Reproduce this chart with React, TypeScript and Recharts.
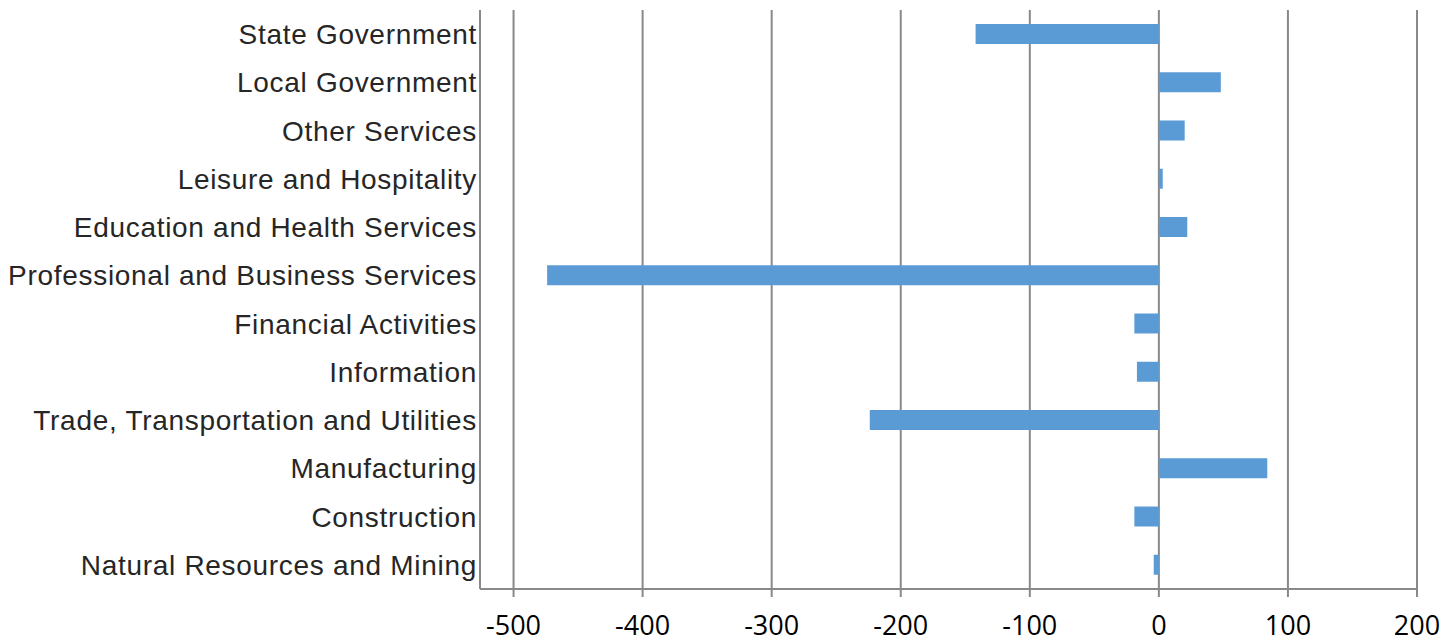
import React from "react";
import { BarChart, Bar, XAxis, YAxis, CartesianGrid } from "recharts";

const industries = [
  "State Government",
  "Local Government",
  "Other Services",
  "Leisure and Hospitality",
  "Education and Health Services",
  "Professional and Business Services",
  "Financial Activities",
  "Information",
  "Trade, Transportation and Utilities",
  "Manufacturing",
  "Construction",
  "Natural Resources and Mining",
];

const changes = [-142, 48, 20, 3, 22, -474, -19, -17, -224, 84, -19, -4];

const xTicks = [-500, -400, -300, -200, -100, 0, 100, 200];

const data = industries.map((name, i) => ({ name, value: changes[i] }));

const GRID = "#898989";

export default function App() {
  return (
    <BarChart
      width={1440}
      height={635}
      data={data}
      layout="vertical"
      margin={{ top: 2, right: 31, left: 0, bottom: 0 }}
    >
      <CartesianGrid stroke={GRID} strokeWidth={2} horizontal={false} />
      <XAxis
        type="number"
        domain={[-526, 200]}
        ticks={xTicks}
        allowDataOverflow
        height={54}
        axisLine={{ stroke: GRID, strokeWidth: 2 }}
        tickLine={{ stroke: GRID, strokeWidth: 2 }}
        tickSize={8}
        tickMargin={19}
        tick={{ fill: "#000", fontSize: 27, fontFamily: "Open Sans, sans-serif" }}
      />
      <YAxis
        type="category"
        dataKey="name"
        width={472}
        axisLine={false}
        tickLine={false}
        tickSize={0}
        tickMargin={3}
        interval={0}
        tick={{
          fill: "#262626",
          fontSize: 28,
          letterSpacing: 0.7,
          fontFamily: "Liberation Sans, Arial, sans-serif",
        }}
      />
      <Bar dataKey="value" fill="#5B9BD5" barSize={20} isAnimationActive={false} />
    </BarChart>
  );
}
